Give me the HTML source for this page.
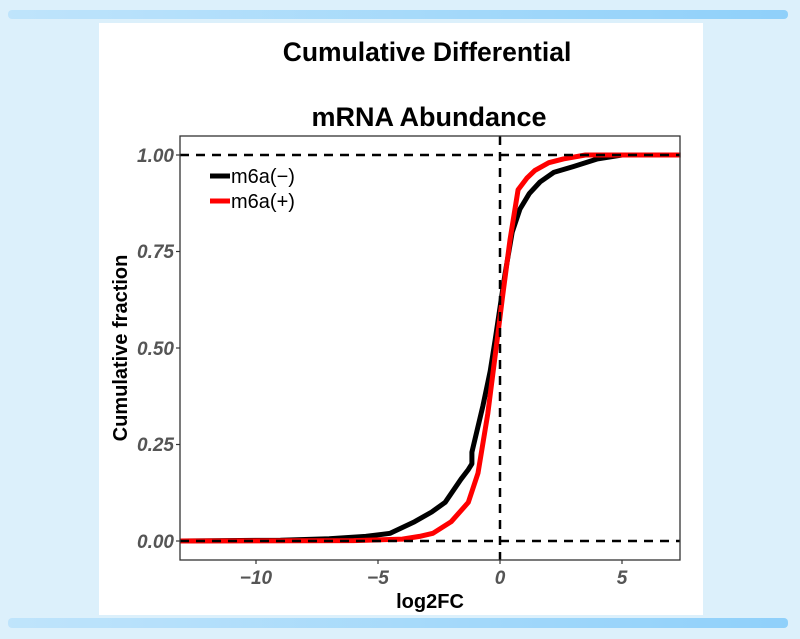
<!DOCTYPE html>
<html><head><meta charset="utf-8"><style>
body{margin:0;background:#dcf0fb;}
svg{display:block}
</style></head><body>
<svg width="800" height="639" xmlns="http://www.w3.org/2000/svg" font-family="Liberation Sans, Arial, sans-serif">
<defs><linearGradient id="g" x1="0" x2="1"><stop offset="0" stop-color="#bfe4fb"/><stop offset="1" stop-color="#8fd0fa"/></linearGradient></defs>
<rect width="800" height="639" fill="#dcf0fb"/>
<rect x="8" y="10" width="780" height="9" rx="4" fill="url(#g)"/>
<rect x="8" y="618" width="780" height="10" rx="4" fill="url(#g)"/>
<rect x="99" y="23" width="604" height="592" fill="#fff"/>
<text x="427" y="61" text-anchor="middle" font-size="26.5" font-weight="bold">Cumulative Differential</text>
<text x="429" y="126" text-anchor="middle" font-size="27" font-weight="bold">mRNA Abundance</text>
<g id="curves"></g>
<line x1="180" y1="155" x2="680" y2="155" stroke="#000" stroke-width="2.5" stroke-dasharray="9,7"/>
<line x1="180" y1="541" x2="680" y2="541" stroke="#000" stroke-width="2.5" stroke-dasharray="9,7"/>
<line x1="500" y1="136" x2="500" y2="560" stroke="#000" stroke-width="2.5" stroke-dasharray="9,7"/>
<rect x="180" y="136" width="500" height="424" fill="none" stroke="#333" stroke-width="1.3"/>
<g stroke="#333" stroke-width="1.2">
<line x1="176" y1="155" x2="180" y2="155"/><line x1="176" y1="251.5" x2="180" y2="251.5"/><line x1="176" y1="348" x2="180" y2="348"/><line x1="176" y1="444.5" x2="180" y2="444.5"/><line x1="176" y1="541" x2="180" y2="541"/>
<line x1="256" y1="560" x2="256" y2="564"/><line x1="378" y1="560" x2="378" y2="564"/><line x1="500" y1="560" x2="500" y2="564"/><line x1="622" y1="560" x2="622" y2="564"/>
</g>
<g font-size="19" font-weight="bold" font-style="italic" fill="#555" text-anchor="end">
<text x="174" y="162">1.00</text><text x="174" y="258">0.75</text><text x="174" y="355">0.50</text><text x="174" y="451">0.25</text><text x="174" y="548">0.00</text>
</g>
<g font-size="19" font-weight="bold" font-style="italic" fill="#555" text-anchor="middle">
<text x="256" y="584">−10</text><text x="378" y="584">−5</text><text x="500" y="584">0</text><text x="622" y="584">5</text>
</g>
<text x="430" y="608" text-anchor="middle" font-size="20" font-weight="bold">log2FC</text>
<text transform="translate(127,348) rotate(-90)" text-anchor="middle" font-size="20" font-weight="bold">Cumulative fraction</text>
<line x1="210" y1="176" x2="230" y2="176" stroke="#000" stroke-width="5"/>
<line x1="210" y1="201" x2="230" y2="201" stroke="#f00" stroke-width="5"/>
<text x="231" y="183" font-size="20">m6a(−)</text>
<text x="231" y="208" font-size="20">m6a(+)</text>
</svg>
<script>
function P(a){return a.map(function(p){return (500+24.4*p[0]).toFixed(1)+","+(541-386*p[1]).toFixed(1)}).join(" ");}
var b=[[-13.1,0],[-9,0.002],[-7,0.006],[-5.5,0.012],[-4.5,0.02],[-3.5,0.05],[-2.8,0.075],[-2.25,0.1],[-1.6,0.16],[-1.3,0.185],[-1.15,0.2],[-1.15,0.23],[-0.7,0.35],[-0.4,0.44],[-0.2,0.52],[0.2,0.69],[0.5,0.8],[0.82,0.86],[1.2,0.9],[1.64,0.93],[2.2,0.955],[3,0.97],[4,0.99],[5,1],[7.4,1]];
var r=[[-13.1,0],[-6,0.001],[-4,0.005],[-3.3,0.012],[-2.75,0.02],[-2,0.05],[-1.3,0.1],[-0.9,0.176],[-0.5,0.33],[-0.3,0.43],[-0.12,0.52],[0.1,0.63],[0.41,0.78],[0.74,0.91],[1.1,0.94],[1.43,0.96],[2,0.98],[2.6,0.99],[3.5,1],[7.4,1]];
var g=document.getElementById("curves");
g.innerHTML='<polyline points="'+P(b)+'" fill="none" stroke="#000" stroke-width="5" stroke-linejoin="round"/><polyline points="'+P(r)+'" fill="none" stroke="#f00" stroke-width="5" stroke-linejoin="round"/>';
</script>
</body></html>
